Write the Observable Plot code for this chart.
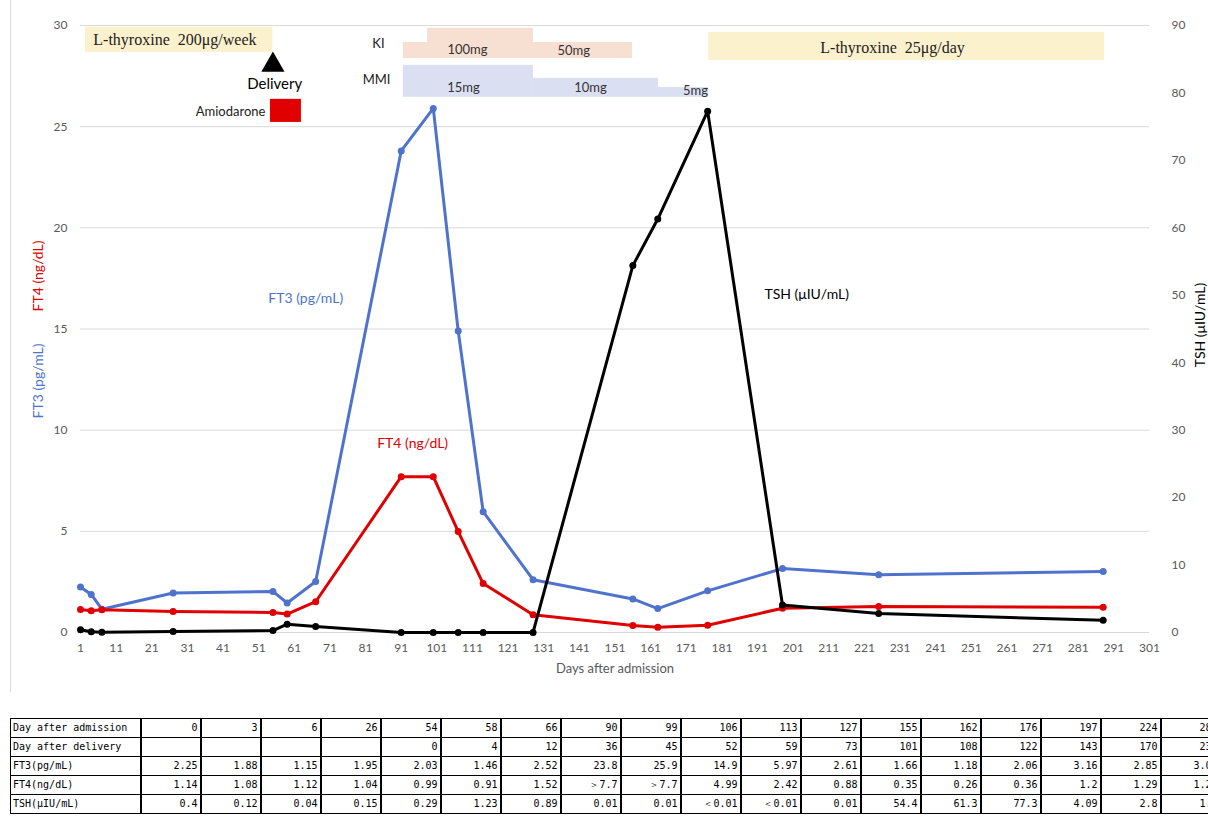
<!DOCTYPE html>
<html><head><meta charset="utf-8">
<script src="https://cdn.jsdelivr.net/npm/d3@7"></script>
<script src="https://cdn.jsdelivr.net/npm/@observablehq/plot@0.6"></script>
<style>
body{margin:0;background:#fff;overflow:hidden;font-family:Lato,"Liberation Sans",sans-serif;}
#wrap{position:relative;width:1208px;height:700px;}
#frame{position:absolute;left:10px;top:0;width:0;height:692px;border-left:1px solid #d9d9d9;}
table{border-collapse:collapse;font-family:"DejaVu Sans Mono",monospace;font-size:10px;margin-left:10px;margin-top:18px;table-layout:fixed;width:1210px;color:#000;}
td{border:1px solid #000;border-right:2px solid #000;height:18px;padding:0 2px;text-align:right;white-space:nowrap;overflow:hidden;line-height:18px;}
td:first-child{text-align:left;}
</style></head><body>
<div id="wrap"><div id="frame"></div></div>
<script>
// ---- data ----
const dayAdmission = [0,3,6,26,54,58,66,90,99,106,113,127,155,162,176,197,224,287];
const dayDelivery  = ["","","","","0","4","12","36","45","52","59","73","101","108","122","143","170","233"];
const ft3 = [2.25,1.88,1.15,1.95,2.03,1.46,2.52,23.8,25.9,14.9,5.97,2.61,1.66,1.18,2.06,3.16,2.85,3.01];
const ft4 = [1.14,1.08,1.12,1.04,0.99,0.91,1.52,7.7,7.7,4.99,2.42,0.88,0.35,0.26,0.36,1.2,1.29,1.25];
const tsh = [0.4,0.12,0.04,0.15,0.29,1.23,0.89,0.01,0.01,0,0,0.01,54.4,61.3,77.3,4.09,2.8,1.8];
const ft3Text = ["2.25","1.88","1.15","1.95","2.03","1.46","2.52","23.8","25.9","14.9","5.97","2.61","1.66","1.18","2.06","3.16","2.85","3.01"];
const ft4Text = ["1.14","1.08","1.12","1.04","0.99","0.91","1.52","＞7.7","＞7.7","4.99","2.42","0.88","0.35","0.26","0.36","1.2","1.29","1.25"];
const tshText = ["0.4","0.12","0.04","0.15","0.29","1.23","0.89","0.01","0.01","＜0.01","＜0.01","0.01","54.4","61.3","77.3","4.09","2.8","1.8"];
const rowLabels = ["Day after admission","Day after delivery","FT3(pg/mL)","FT4(ng/dL)","TSH(μIU/mL)"];
const xTicks = d3.range(1, 302, 10);
const leftTicks = d3.range(0, 31, 5);
const rightTicks = d3.range(0, 91, 10);

// treatments (x in axis days, y in left-axis units)
const bands = [
  {name:"levo200", x1:2.4,  x2:55,    y1:28.67, y2:29.91, fill:"#fcf1cd"},
  {name:"levo25",  x1:177.3,x2:288.4, y1:28.27, y2:29.66, fill:"#fcf1cd"},
  {name:"KI",      x1:91.6, x2:155.9, y1:28.37, y2:29.16, fill:"#f7e0d2"},
  {name:"KI100",   x1:98.4, x2:128.1, y1:28.37, y2:29.86, fill:"#f7e0d2"},
  {name:"MMI15",   x1:91.6, x2:128.1, y1:26.45, y2:28.03, fill:"#dae0f2"},
  {name:"MMI10",   x1:128.1,x2:163.2, y1:26.45, y2:27.39, fill:"#dae0f2"},
  {name:"MMI5",    x1:163.2,x2:177.3, y1:26.45, y2:26.94, fill:"#dae0f2"},
  {name:"Amiodarone", x1:54.3, x2:63.0, y1:25.21, y2:26.35, fill:"#e00000"}
];
const doseLabels = [
  {t:"100mg", x:109.6, y:28.8},
  {t:"50mg",  x:139.4, y:28.75},
  {t:"15mg",  x:108.5, y:26.9},
  {t:"10mg",  x:144.1, y:26.9},
  {t:"5mg",   x:173.6, y:26.75}
];

const rows = dayAdmission.map((d,i)=>({day:d+1, ft3:ft3[i], ft4:ft4[i], tsh:tsh[i]/3}));
const blue = "#4f73cc", red = "#e00000", black = "#000";

const chart = Plot.plot({
  width:1208, height:700,
  marginLeft:80, marginRight:59, marginTop:25, marginBottom:68,
  x:{domain:[1,301]},
  y:{domain:[0,30]},
  style:{fontFamily:"Lato, 'Liberation Sans', sans-serif", fontSize:"12px", color:"#595959", background:"transparent"},
  marks:[
    Plot.gridY(leftTicks, {stroke:"#d9d9d9", strokeOpacity:1}),
    Plot.axisY(leftTicks, {tickSize:0, tickPadding:13, label:null, fill:"#595959"}),
    Plot.axisY(rightTicks.map(t=>t/3), {anchor:"right", tickSize:0, tickPadding:22, label:null, tickFormat:d=>Math.round(d*3), fill:"#595959"}),
    Plot.axisX(xTicks, {tickSize:0, tickPadding:11, label:null, fill:"#595959"}),
    Plot.ruleY([0], {stroke:"#d9d9d9"}),
    Plot.rect(bands, {x1:"x1", x2:"x2", y1:"y1", y2:"y2", fill:"fill"}),
    Plot.text(doseLabels, {x:"x", y:"y", text:"t", fill:"#333", fontSize:13}),
    Plot.text(["L-thyroxine  200μg/week"], {x:4.6, y:29.3, textAnchor:"start", fontFamily:"'Liberation Serif', serif", fontSize:16, fill:"#222"}),
    Plot.text(["L-thyroxine  25μg/day"], {x:228.9, y:28.9, fontFamily:"'Liberation Serif', serif", fontSize:16, fill:"#222"}),
    Plot.text(["KI"], {x:84.6, y:29.1, fill:"#222", fontSize:13}),
    Plot.text(["MMI"], {x:84.1, y:27.3, fill:"#222", fontSize:13}),
    Plot.dot([55], {x:d=>d, y:28.05, symbol:"triangle", r:8.6, fill:"#000"}),
    Plot.text(["Delivery"], {x:55.5, y:27.1, fill:"#000", fontSize:15}),
    Plot.text(["Amiodarone"], {x:52.9, y:25.75, textAnchor:"end", fill:"#222", fontSize:13}),
    Plot.line(rows, {x:"day", y:"ft3", stroke:blue, strokeWidth:3}),
    Plot.dot(rows, {x:"day", y:"ft3", fill:blue, r:3.5}),
    Plot.line(rows, {x:"day", y:"ft4", stroke:red, strokeWidth:3}),
    Plot.dot(rows, {x:"day", y:"ft4", fill:red, r:3.5}),
    Plot.line(rows, {x:"day", y:"tsh", stroke:black, strokeWidth:3}),
    Plot.dot(rows, {x:"day", y:"tsh", fill:black, r:3.5}),
    Plot.text(["FT3 (pg/mL)"], {x:64.2, y:16.5, fill:blue, fontSize:14}),
    Plot.text(["FT4 (ng/dL)"], {x:94.2, y:9.35, fill:red, fontSize:14}),
    Plot.text(["TSH (μIU/mL)"], {x:204.8, y:16.7, fill:"#000", fontSize:14}),
    Plot.text(["FT3 (pg/mL)"], {frameAnchor:"left", textAnchor:"middle", dx:-42, dy:52, rotate:-90, fill:blue, fontSize:14}),
    Plot.text(["FT4 (ng/dL)"], {frameAnchor:"left", textAnchor:"middle", dx:-42, dy:-53, rotate:-90, fill:red, fontSize:14}),
    Plot.text(["TSH (μIU/mL)"], {frameAnchor:"right", textAnchor:"middle", dx:51, dy:-4, rotate:-90, fill:"#000", fontSize:14}),
    Plot.text(["Days after admission"], {frameAnchor:"bottom", dy:40, fill:"#595959", fontSize:13})
  ]
});
document.getElementById("wrap").appendChild(chart);

// data table
const table = document.createElement("table");
const colgroup = document.createElement("colgroup");
const c0 = document.createElement("col"); c0.style.width="130px"; colgroup.appendChild(c0);
dayAdmission.forEach(()=>{const c=document.createElement("col"); c.style.width="60px"; colgroup.appendChild(c);});
table.appendChild(colgroup);
const tableRows = [dayAdmission.map(String), dayDelivery, ft3Text, ft4Text, tshText];
tableRows.forEach((vals,r)=>{
  const tr = document.createElement("tr");
  const th = document.createElement("td"); th.textContent = rowLabels[r]; tr.appendChild(th);
  vals.forEach(v=>{const td=document.createElement("td"); td.textContent=v; tr.appendChild(td);});
  table.appendChild(tr);
});
document.body.appendChild(table);
</script>
</body></html>
